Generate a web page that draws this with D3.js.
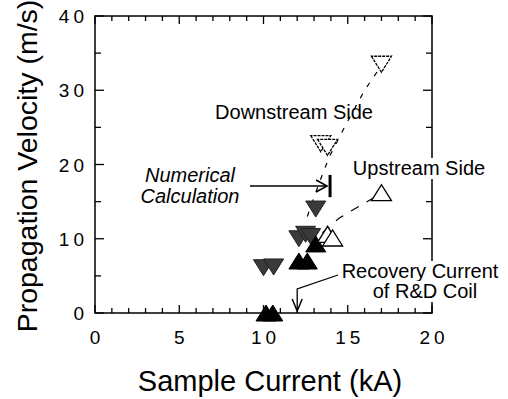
<!DOCTYPE html>
<html>
<head>
<meta charset="utf-8">
<script src="https://cdn.jsdelivr.net/npm/d3@7"></script>
<style>
  body { margin: 0; background: #fff; }
  text { font-family: "Liberation Sans", Arial, sans-serif; fill: #000; }
</style>
</head>
<body>
<svg id="chart" width="508" height="399"></svg>
<script>
// Downstream side: open inverted triangles and filled (gray) inverted triangles
const downOpenX = [17.0, 13.4, 13.8];
const downOpenY = [33.5, 22.8, 22.3];
const downFillX = [13.1, 12.1, 12.5, 12.8, 10.0, 10.6];
const downFillY = [14.0, 10.0, 10.6, 10.3, 6.1, 6.2];
// Upstream side: open upright triangles and filled (black) upright triangles
const upOpenX = [17.0, 13.8, 14.1];
const upOpenY = [16.2, 10.6, 10.1];
const upFillX = [13.1, 12.1, 12.6, 10.15, 10.55];
const upFillY = [9.3, 7.0, 7.0, 0, 0];
// dashed guide lines
const downLineX = [12.6, 13.3, 13.9, 14.8, 16.0, 16.9];
const downLineY = [13.0, 17.5, 21.0, 25.0, 30.0, 33.0];
const upLineX = [13.5, 14.5, 16.6];
const upLineY = [10.8, 12.8, 15.6];
// numerical calculation (error bar) and recovery current
const calcX = 13.95, calcLow = 15.6, calcHigh = 18.6;
const recoveryX = 12.0;

const xTicks = [0, 5, 10, 15, 20];
const yTicks = [0, 10, 20, 30, 40];

const svg = d3.select("#chart");
const pLeft = 95, pRight = 432, pTop = 16, pBottom = 313;

const x = d3.scaleLinear().domain([0, 20]).range([pLeft, pRight]);
const y = d3.scaleLinear().domain([0, 40]).range([pBottom, pTop]);

// frame
svg.append("rect")
    .attr("x", pLeft).attr("y", pTop)
    .attr("width", pRight - pLeft).attr("height", pBottom - pTop)
    .attr("fill", "none").attr("stroke", "#000").attr("stroke-width", 1.5);

// inward ticks on all four sides
d3.range(0, 21, 1).forEach(v => {
    const len = v % 5 === 0 ? 8 : 5;
    svg.append("line").attr("x1", x(v)).attr("x2", x(v))
        .attr("y1", pBottom).attr("y2", pBottom - len).attr("stroke", "#000").attr("stroke-width", 1.3);
    svg.append("line").attr("x1", x(v)).attr("x2", x(v))
        .attr("y1", pTop).attr("y2", pTop + len).attr("stroke", "#000").attr("stroke-width", 1.3);
});
d3.range(0, 41, 5).forEach(v => {
    const len = v % 10 === 0 ? 9 : 6;
    svg.append("line").attr("x1", pLeft).attr("x2", pLeft + len)
        .attr("y1", y(v)).attr("y2", y(v)).attr("stroke", "#000").attr("stroke-width", 1.3);
    svg.append("line").attr("x1", pRight).attr("x2", pRight - len)
        .attr("y1", y(v)).attr("y2", y(v)).attr("stroke", "#000").attr("stroke-width", 1.3);
});

// tick labels
svg.selectAll(".xl").data(xTicks).enter().append("text")
    .attr("x", d => x(d) + 2).attr("y", 344)
    .attr("text-anchor", "middle").attr("font-size", "19px")
    .attr("letter-spacing", "4px")
    .text(d => d);
svg.selectAll(".yl").data(yTicks).enter().append("text")
    .attr("x", 88).attr("y", d => y(d) + 7)
    .attr("text-anchor", "end").attr("font-size", "19px")
    .attr("letter-spacing", "4px")
    .text(d => d);

// axis titles
svg.append("text").attr("x", 270).attr("y", 391)
    .attr("text-anchor", "middle").attr("font-size", "29px")
    .text("Sample Current (kA)");
svg.append("text")
    .attr("transform", "translate(37,166) rotate(-90)")
    .attr("text-anchor", "middle").attr("font-size", "28.5px")
    .text("Propagation Velocity (m/s)");

// dashed lines
const line = d3.line().x(d => x(d[0])).y(d => y(d[1]));
svg.append("path").datum(d3.zip(downLineX, downLineY))
    .attr("d", line).attr("fill", "none").attr("stroke", "#000")
    .attr("stroke-width", 1.2).attr("stroke-dasharray", "5,8");
svg.append("path").datum(d3.zip(upLineX, upLineY))
    .attr("d", line).attr("fill", "none").attr("stroke", "#000")
    .attr("stroke-width", 1.2).attr("stroke-dasharray", "9,9");

// triangles
const hw = 10, hh = 8;
const upTri = (cx, cy) => `M${cx - hw},${cy + hh}L${cx},${cy - hh}L${cx + hw},${cy + hh}Z`;
const downTri = (cx, cy) => `M${cx - hw},${cy - hh}L${cx},${cy + hh}L${cx + hw},${cy - hh}Z`;

svg.selectAll(".df").data(d3.zip(downFillX, downFillY)).enter().append("path")
    .attr("d", d => downTri(x(d[0]), y(d[1])))
    .attr("fill", "#3a3a3a").attr("stroke", "#222").attr("stroke-width", 1);
svg.selectAll(".uf").data(d3.zip(upFillX, upFillY)).enter().append("path")
    .attr("d", d => upTri(x(d[0]), y(d[1])))
    .attr("fill", "#000").attr("stroke", "#000").attr("stroke-width", 1);
svg.selectAll(".do").data(d3.zip(downOpenX, downOpenY)).enter().append("path")
    .attr("d", d => downTri(x(d[0]), y(d[1])))
    .attr("fill", "#fff").attr("stroke", "#000").attr("stroke-width", 1.3)
    .attr("stroke-dasharray", "3,1");
svg.selectAll(".uo").data(d3.zip(upOpenX, upOpenY)).enter().append("path")
    .attr("d", d => upTri(x(d[0]), y(d[1])))
    .attr("fill", "#fff").attr("stroke", "#000").attr("stroke-width", 1.3);

// numerical calculation bar and arrow
const cy = y((calcLow + calcHigh) / 2);
svg.append("line").attr("x1", x(calcX)).attr("x2", x(calcX))
    .attr("y1", y(calcLow)).attr("y2", y(calcHigh))
    .attr("stroke", "#000").attr("stroke-width", 3);
svg.append("line").attr("x1", 250).attr("x2", x(calcX) - 3)
    .attr("y1", cy).attr("y2", cy).attr("stroke", "#000").attr("stroke-width", 1.5);
svg.append("path")
    .attr("d", `M${x(calcX) - 14},${cy - 6}L${x(calcX) - 3},${cy}L${x(calcX) - 14},${cy + 6}`)
    .attr("fill", "none").attr("stroke", "#000").attr("stroke-width", 1.5);

// recovery current arrow
const rx = x(recoveryX);
svg.append("path")
    .attr("d", `M338,275L${rx},289L${rx},${pBottom - 2}`)
    .attr("fill", "none").attr("stroke", "#000").attr("stroke-width", 1.3);
svg.append("path")
    .attr("d", `M${rx - 5},${pBottom - 14}L${rx},${pBottom - 2}L${rx + 5},${pBottom - 14}`)
    .attr("fill", "none").attr("stroke", "#000").attr("stroke-width", 1.5);

// annotations (white backing so the frame is broken behind them)
const note = (tx, ty, s, italic, backed) => {
    const g = svg.append("g");
    const t = g.append("text")
        .attr("x", tx).attr("y", ty).attr("text-anchor", "middle")
        .attr("font-size", "20px").attr("font-style", italic ? "italic" : "normal")
        .attr("fill", "#000").text(s);
    if (backed) {
        const b = t.node().getBBox();
        g.insert("rect", "text")
            .attr("x", b.x - 2).attr("y", b.y + 1)
            .attr("width", b.width + 4).attr("height", b.height - 1)
            .attr("fill", "#fff");
    }
};
note(294, 119, "Downstream Side");
note(419, 175, "Upstream Side", false, true);
note(190, 182, "Numerical", true);
note(190, 203, "Calculation", true);
note(420, 278, "Recovery Current", false, true);
note(425, 298, "of R&D Coil", false, true);
</script>
</body>
</html>
